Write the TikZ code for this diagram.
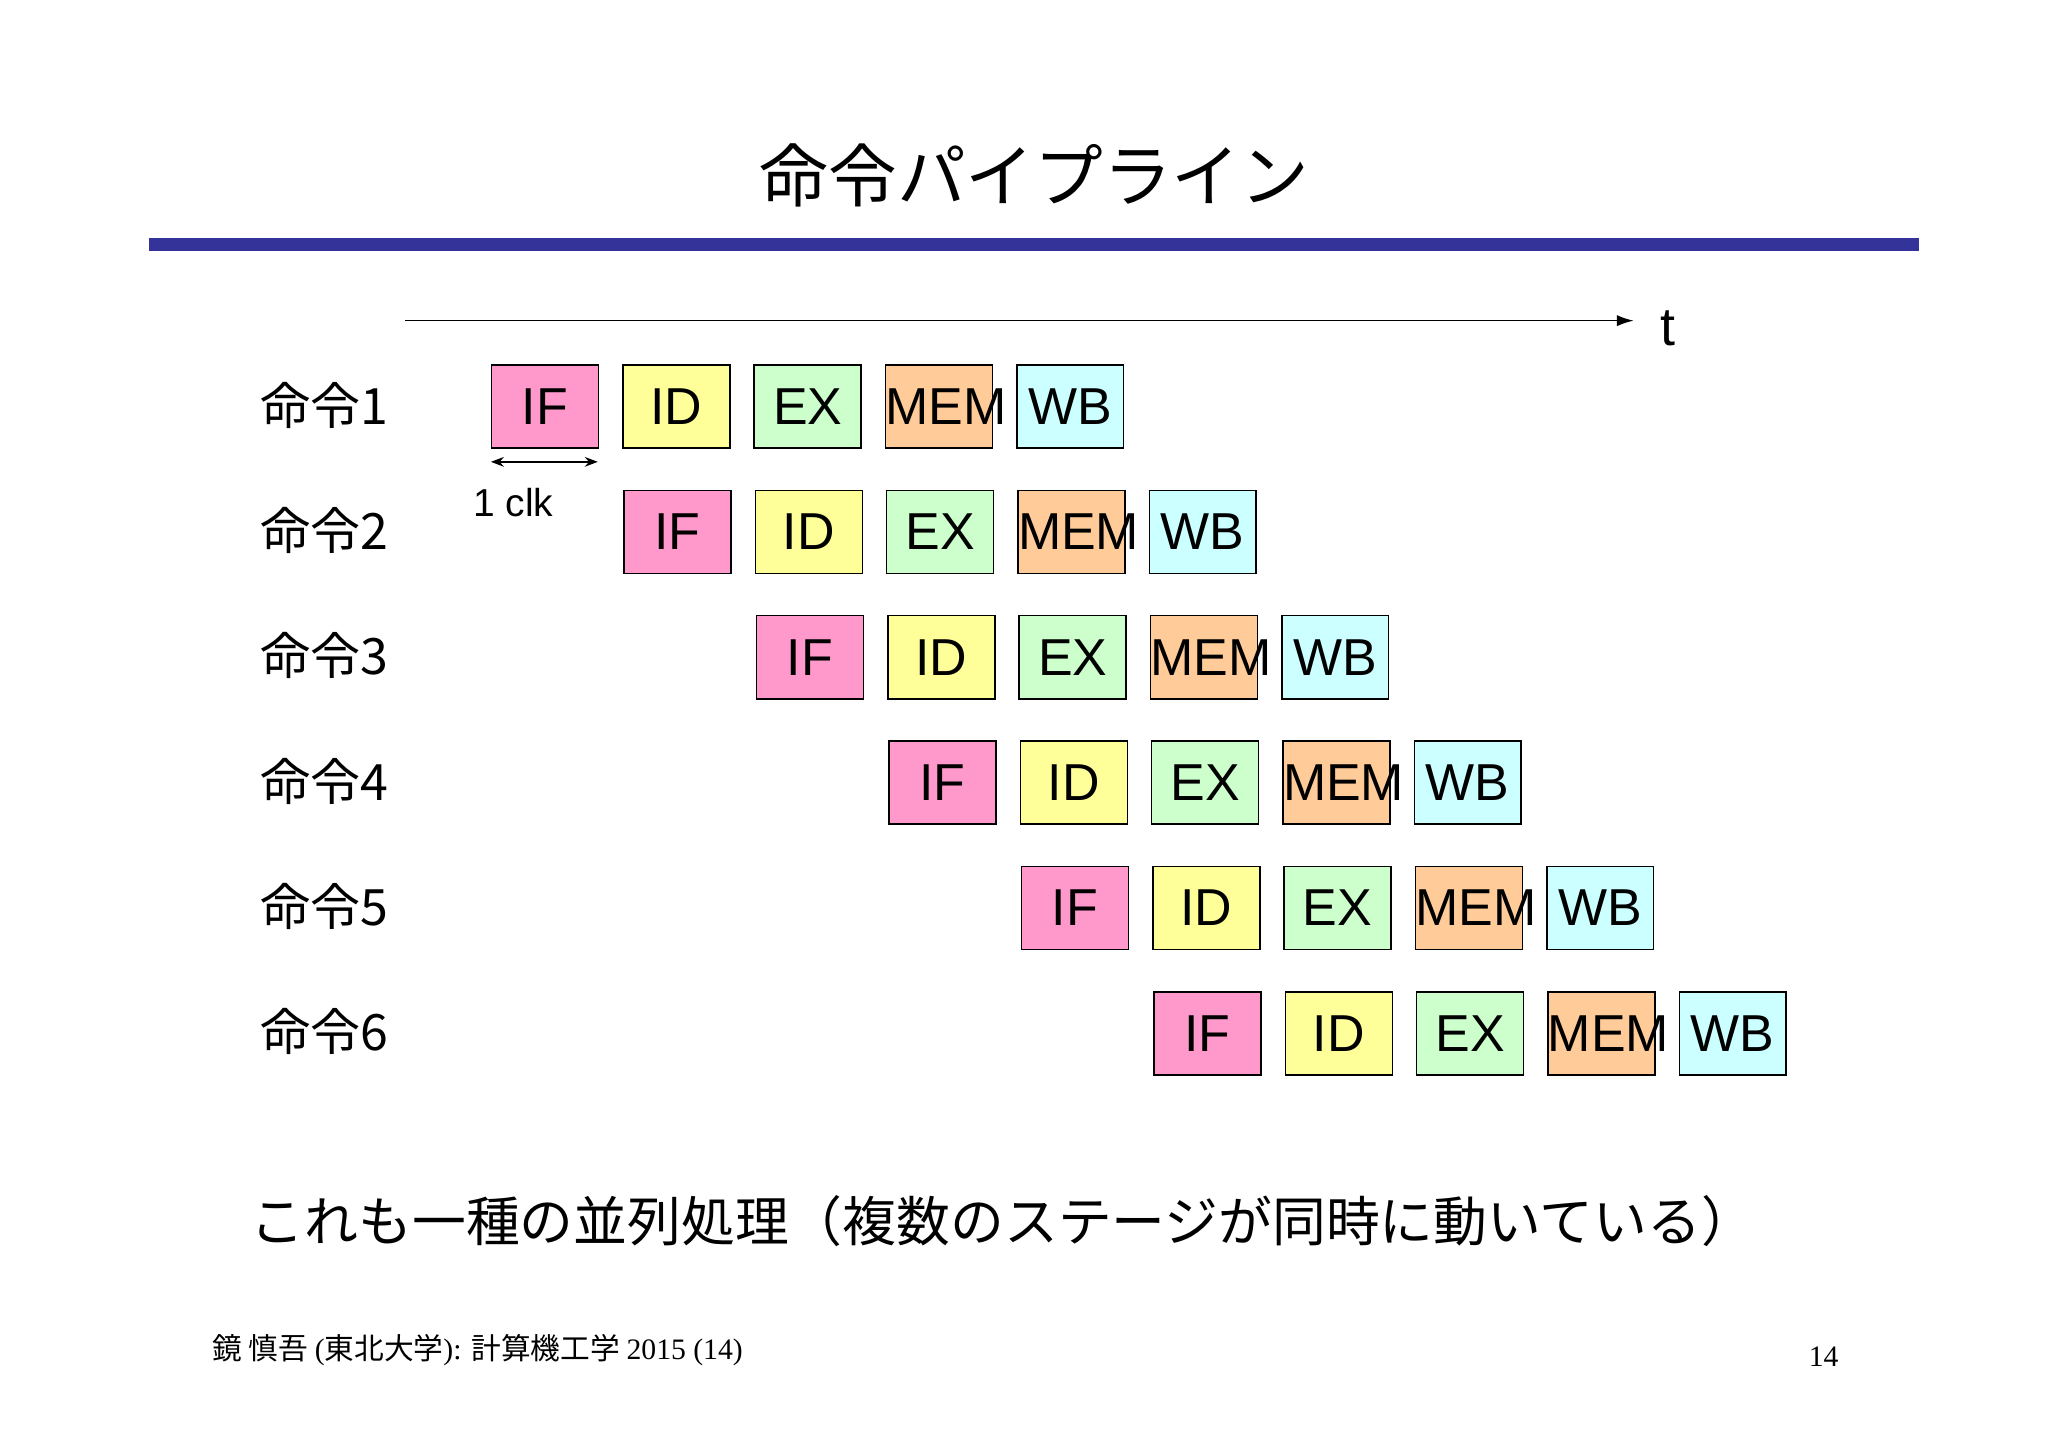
\documentclass[tikz,border=0pt]{standalone}
\usepackage{fontspec}
\setmainfont{Liberation Sans}
\newfontfamily\cjk{Noto Sans CJK JP}
\newfontfamily\ser{Liberation Serif}
\usetikzlibrary{arrows.meta}
\definecolor{cIF}{HTML}{FF99CC}
\definecolor{cID}{HTML}{FFFF99}
\definecolor{cEX}{HTML}{CCFFCC}
\definecolor{cMEM}{HTML}{FFCC99}
\definecolor{cWB}{HTML}{CCFFFF}
\definecolor{bar}{HTML}{333399}
\begin{document}
\begin{tikzpicture}[x=0.025cm,y=-0.025cm,
  stage/.style={draw=black,line width=0.8pt,text width=81*0.025cm,align=center,minimum height=63*0.025cm,inner sep=0pt,anchor=north west,font=\fontsize{28}{28}\selectfont},
  lbl/.style={font=\cjk\fontsize{27}{27}\selectfont}]
\useasboundingbox (0,0) rectangle (1552,1097);
\fill[white] (0,0) rectangle (1552,1097);
\node[font=\cjk\fontsize{37}{37}\selectfont] (title) at (784,133) {命令パイプライン};
\fill[bar] (113,180) rectangle (1454,190);
\coordinate (ts) at (307,243); \coordinate (te) at (1238,243);
\draw[line width=0.8pt,-{Latex[length=9pt,width=6pt]}] (ts) -- (te);
\node[font=\fontsize{29}{29}\selectfont] (t) at (1264,249) {t};
\foreach \i in {0,...,5}{
  \pgfmathtruncatemacro{\n}{\i+1}
  \node[lbl] (L\n) at (246,{307+95*\i}) {命令\n};
  \foreach \s/\c [count=\j from 0] in {IF/cIF,ID/cID,EX/cEX,MEM/cMEM,WB/cWB}{
    \node[stage,fill=\c] (b\n\s) at ({372+100.4*\i+99.5*\j},{276+95*\i}) {\s};
  }
}
\coordinate (ca) at (372,350); \coordinate (cb) at (453,350);
\draw[line width=0.8pt,{Stealth[length=7pt]}-{Stealth[length=7pt]}] (ca) -- (cb);
\node[font=\fontsize{21}{21}\selectfont] (clk) at (389,381) {1 clk};
\node[font=\cjk\fontsize{29}{29}\selectfont] (bottom) at (760,925) {これも一種の並列処理（複数のステージが同時に動いている）};
\node[anchor=west,font=\fontsize{16}{16}\selectfont] (foot) at (156,1023) {{\cjk 鏡 慎吾 }{\ser (}{\cjk 東北大学}{\ser ): }{\cjk 計算機工学 }{\ser 2015 (14)}};
\node[font=\ser\fontsize{16}{16}\selectfont] (page) at (1382,1028) {14};
\end{tikzpicture}
\end{document}
